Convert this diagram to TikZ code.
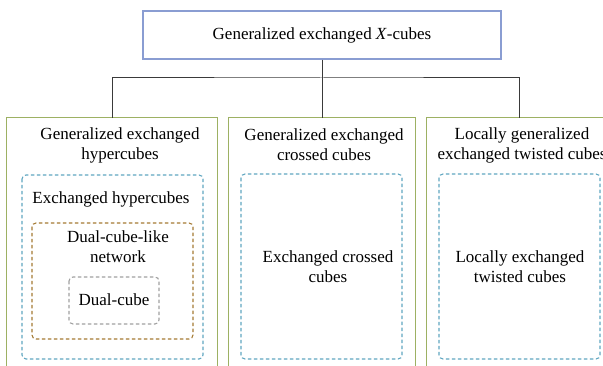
\documentclass[tikz,border=0pt]{standalone}
\usepackage{fontspec}
\setmainfont{Liberation Serif}
\definecolor{topblue}{HTML}{8A9DD2}
\definecolor{olive}{HTML}{9DB163}
\definecolor{aqua}{HTML}{5FA6C0}
\definecolor{ochre}{HTML}{A47A32}
\definecolor{softgray}{HTML}{A0A0A0}
\definecolor{linkgray}{HTML}{3A3A3A}
\tikzset{
  x=1pt, y=-1pt,
  every node/.style={font=\fontsize{17}{20}\selectfont, inner sep=0pt, align=center},
  headbox/.style={draw=topblue, line width=1.1pt, minimum width=358pt, minimum height=48pt},
  groupbox/.style={draw=olive, line width=1.3pt},
  dashbox/.style={line width=1.1pt, dash pattern=on 3.5pt off 2.5pt, rounded corners=4pt},
  link/.style={draw=linkgray, line width=1pt}
}
\begin{document}
\begin{tikzpicture}
\useasboundingbox (0,0) rectangle (603,366);
\begin{scope}
\clip (0,0) rectangle (603,366);

% root
\node[headbox] (root) at (322,35) {Generalized exchanged \textit{X}-cubes};

% three family frames, open at the bottom
\node[minimum width=210pt, minimum height=260pt] (famA) at (112,248) {};
\node[minimum width=186pt, minimum height=260pt] (famB) at (322,248) {};
\node[minimum width=184pt, minimum height=260pt] (famC) at (519,248) {};
\foreach \f in {famA,famB,famC}
  \draw[groupbox] (\f.south west) -- (\f.north west) -- (\f.north east) -- (\f.south east);

% connectors
\coordinate (bus) at (322,78);
\draw[link] (root.south) -- (famB.north);
\draw[link] (famA.north) |- (bus) -| (famC.north);

% family titles
\node (tA) at (120,145) {Generalized exchanged\\hypercubes};
\node (tB) at (324,145) {Generalized exchanged\\crossed cubes};
\node (tC) at (522,145) {Locally generalized\\exchanged twisted cubes};

% nested classes, left family
\draw[dashbox, draw=aqua] (22,175) rectangle (203,359);
\node (exh) at (111,199) {Exchanged hypercubes};
\draw[dashbox, draw=ochre] (32,223) rectangle (193,339);
\node (dcl) at (118,247) {Dual-cube-like\\network};
\draw[dashbox, draw=softgray] (69,277) rectangle (159,324);
\node (dc) at (114,300) {Dual-cube};

% middle family
\draw[dashbox, draw=aqua] (241,174) rectangle (402,359);
\node (exc) at (328,267) {Exchanged crossed\\cubes};

% right family
\draw[dashbox, draw=aqua] (439,174) rectangle (600,359);
\node (let) at (520,267) {Locally exchanged\\twisted cubes};
\end{scope}
\end{tikzpicture}
\end{document}
